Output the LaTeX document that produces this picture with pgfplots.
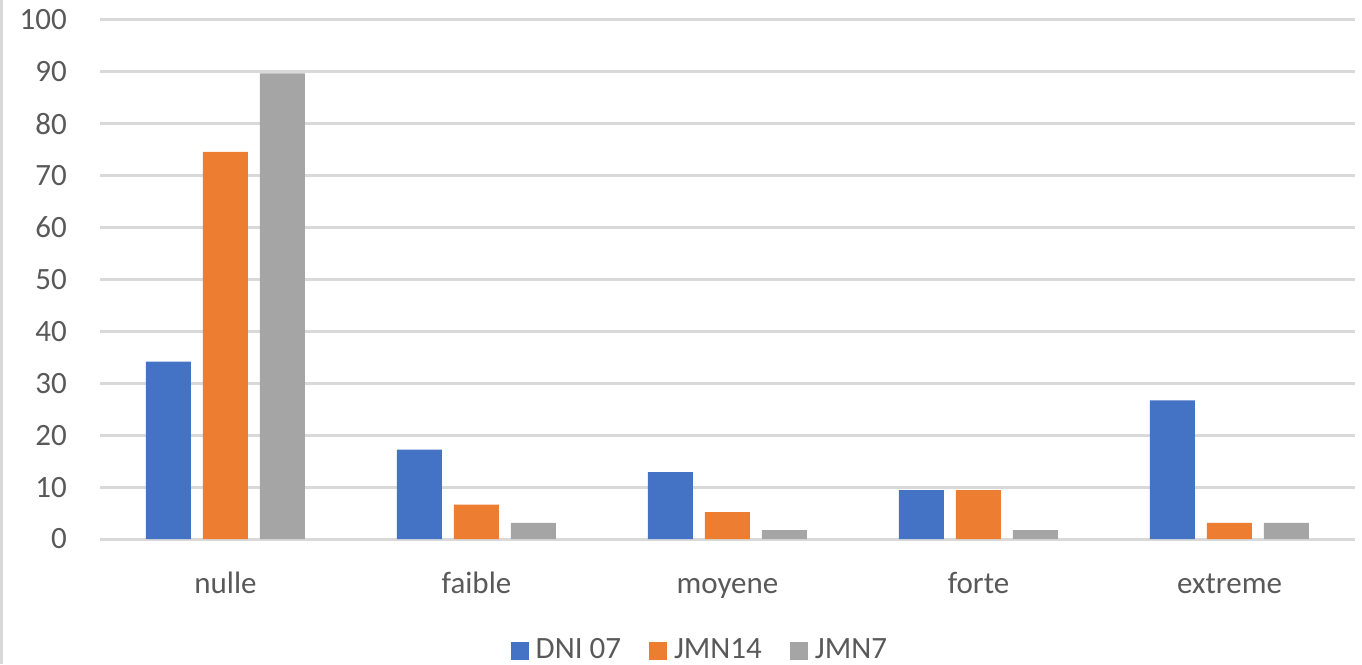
\documentclass[border=0pt]{standalone}
\usepackage{fontspec}
\setmainfont{Carlito}
\usepackage{pgfplots}
\pgfplotsset{compat=1.18}
\definecolor{cblue}{HTML}{4472C4}
\definecolor{corange}{HTML}{ED7D31}
\definecolor{cgray}{HTML}{A5A5A5}
\definecolor{gridc}{HTML}{D9D9D9}
\definecolor{txt}{HTML}{595959}

\begin{document}
\fontsize{31}{37}\selectfont
\begin{tikzpicture}
\useasboundingbox (-100pt,-125pt) rectangle (1262pt,539pt);
\draw[gridc, line width=3pt] (-98.5pt,-125pt) -- (-98.5pt,539pt);
\begin{axis}[
  scale only axis, width=1255pt, height=519pt,
  ybar=12pt, bar width=45pt,
  xmin=-0.5, xmax=4.5, ymin=0, ymax=100,
  ytick={0,10,...,100},
  xtick=data, xticklabels={nulle,faible,moyene,forte,extreme},
  axis line style={draw=none},
  major tick length=0pt,
  ymajorgrids, major grid style={gridc, line width=3pt},
  /pgf/number format/assume math mode=true,
  tick label style={font=\fontsize{31}{37}\selectfont, text=txt, inner sep=0pt},
  yticklabel style={anchor=east, xshift=-33pt},
  xticklabel style={anchor=base, yshift=-54pt},
  legend style={at={(axis description cs:0.478,-0.2158)}, anchor=center,
    draw=none, fill=none, legend columns=-1, text=txt,
    font=\fontsize{31}{37}\selectfont,
    /tikz/every odd column/.append style={column sep=5pt},
    /tikz/every even column/.append style={column sep=26pt}},
  legend image code/.code={\fill[#1] (0pt,-9pt) rectangle (18pt,9pt);},
]
\addplot[fill=cblue, draw=none] coordinates {(0,34.2) (1,17.2) (2,12.9) (3,9.4) (4,26.7)};
\addplot[fill=corange, draw=none] coordinates {(0,74.6) (1,6.6) (2,5.2) (3,9.4) (4,3.1)};
\addplot[fill=cgray, draw=none] coordinates {(0,89.7) (1,3.1) (2,1.7) (3,1.7) (4,3.1)};
\legend{DNI 07, JMN14, JMN7}
\end{axis}
\end{tikzpicture}
\end{document}
